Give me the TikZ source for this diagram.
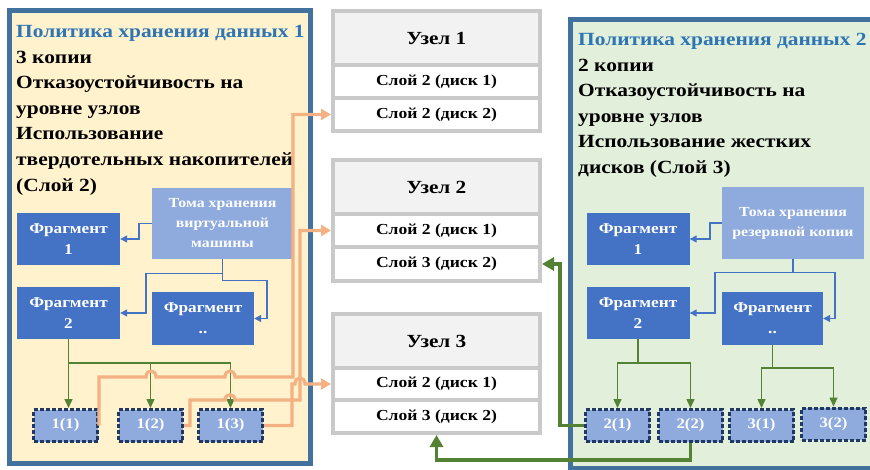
\documentclass[tikz,border=0pt]{standalone}
\usepackage{fontspec}
\setmainfont{Liberation Serif}
\newfontfamily\widefont[FakeStretch=1.15]{Liberation Serif}
\usetikzlibrary{arrows.meta}

\definecolor{polblue}{HTML}{41719C}
\definecolor{titleblue}{HTML}{2E75B6}
\definecolor{polyellow}{HTML}{FFF2CC}
\definecolor{polgreen}{HTML}{E2EFDA}
\definecolor{fragblue}{HTML}{4472C4}
\definecolor{tomeblue}{HTML}{8FAADC}
\definecolor{copynavy}{HTML}{203864}
\definecolor{linkgreen}{HTML}{548235}
\definecolor{linkorange}{HTML}{F4B183}
\definecolor{nodegray}{HTML}{C9C9C9}
\definecolor{headgray}{HTML}{F2F2F2}

\tikzset{
  panel/.style={draw=polblue, line width=5pt},
  poltext/.style={anchor=north west, align=left, inner sep=0pt, font=\widefont\fontsize{18.6}{25.6}\selectfont\bfseries},
  frag/.style={fill=fragblue, text=white, align=center, inner sep=0pt, minimum width=103pt, minimum height=52pt, font=\widefont\fontsize{15}{21}\selectfont\bfseries},
  tome/.style={fill=tomeblue, text=white, align=center, inner sep=0pt, minimum width=141pt, minimum height=71pt, font=\widefont\fontsize{13.8}{20}\selectfont\bfseries},
  copybox/.style={fill=tomeblue, draw=copynavy, line width=3pt, dash pattern=on 4pt off 2pt, text=white, inner sep=0pt, minimum width=64pt, minimum height=32pt, font=\widefont\fontsize{14.5}{18}\selectfont\bfseries},
  nodehead/.style={fill=headgray, draw=nodegray, line width=4pt, inner sep=0pt, minimum width=207pt, minimum height=54pt, font=\widefont\fontsize{18.5}{20}\selectfont\bfseries},
  noderow/.style={fill=white, draw=nodegray, line width=4pt, inner sep=0pt, minimum width=207pt, font=\widefont\fontsize{15.3}{18}\selectfont\bfseries},
  bluelink/.style={draw=fragblue, line width=1.3pt, -{Triangle[length=7pt,width=7pt]}},
  greenlink/.style={draw=linkgreen, line width=1.5pt},
  greenarrow/.style={greenlink, -{Triangle[length=9pt,width=8pt]}},
  biggreen/.style={draw=linkgreen, line width=3.5pt, -{Triangle[length=12pt,width=13pt]}},
  orangelink/.style={draw=linkorange, line width=3.2pt, -{Triangle[length=10pt,width=11pt]}}
}

\begin{document}
\begin{tikzpicture}[x=1pt,y=-1pt]
\useasboundingbox (0,0) rectangle (870,470);
\fill[white] (0,0) rectangle (870,470);
\clip (0,0) rectangle (870,470);

% policy panels
\draw[panel, fill=polyellow] (9.5,11) rectangle (310.5,463.5);
\draw[panel, fill=polgreen] (570.5,19.5) rectangle (880,468);

\node[poltext] (polA) at (16,25) {\textcolor{titleblue}{Политика хранения данных 1}\\3 копии\\Отказоустойчивость на\\уровне узлов\\Использование\\твердотельных накопителей\\(Слой 2)};
\node[poltext] (polB) at (578,33) {\textcolor{titleblue}{Политика хранения данных 2}\\2 копии\\Отказоустойчивость на\\уровне узлов\\Использование жестких\\дисков (Слой 3)};

% storage nodes
\node[nodehead] (n1h) at (436.5,38) {Узел 1};
\node[noderow, minimum height=33pt] (n1r1) at (436.5,81.5) {Слой 2 (диск 1)};
\node[noderow, minimum height=33pt] (n1r2) at (436.5,114.5) {Слой 2 (диск 2)};

\node[nodehead] (n2h) at (436.5,187) {Узел 2};
\node[noderow, minimum height=33pt] (n2r1) at (436.5,230.5) {Слой 2 (диск 1)};
\node[noderow, minimum height=34pt] (n2r2) at (436.5,264) {Слой 3 (диск 2)};

\node[nodehead] (n3h) at (436.5,341) {Узел 3};
\node[noderow, minimum height=32pt] (n3r1) at (436.5,384) {Слой 2 (диск 1)};
\node[noderow, minimum height=33pt] (n3r2) at (436.5,416.5) {Слой 3 (диск 2)};

% policy 1
\node[frag] (fragA1) at (68.5,239) {Фрагмент\\1};
\node[tome] (tomeA) at (222.5,223.5) {Тома хранения\\виртуальной\\машины};
\node[frag] (fragA2) at (68.5,313) {Фрагмент\\2};
\node[frag, minimum width=102pt, minimum height=53pt] (fragAx) at (203,318.5) {Фрагмент\\..};
\node[copybox] (c11) at (65.5,425.5) {1(1)};
\node[copybox] (c12) at (150.5,425.5) {1(2)};
\node[copybox] (c13) at (230.5,425.5) {1(3)};

\draw[bluelink] (tomeA.west) -| (139,239) -- (fragA1.east);
\draw[bluelink] (tomeA.south) -- ++(0,14) -| (146,313) -- (fragA2.east);
\draw[bluelink] (tomeA.south) -- ++(0,21) -| (267,318.5) -- (fragAx.east);

\draw[greenlink] (fragA2.south) -- ++(0,24) coordinate (gA);
\draw[greenarrow] (gA) -- (gA |- c11.north);
\draw[greenarrow] (gA) -| (c12.north);
\draw[greenarrow] (gA) -| (c13.north);

% policy 2
\node[frag] (fragB1) at (638,239) {Фрагмент\\1};
\node[tome, minimum width=142pt, minimum height=72pt] (tomeB) at (793,223) {Тома хранения\\резервной копии};
\node[frag] (fragB2) at (638,313) {Фрагмент\\2};
\node[frag, minimum width=101pt, minimum height=53pt] (fragBx) at (772.5,318.5) {Фрагмент\\..};
\node[copybox] (c21) at (617.5,425.5) {2(1)};
\node[copybox] (c22) at (690.5,425.5) {2(2)};
\node[copybox] (c31) at (761.5,425.5) {3(1)};
\node[copybox] (c32) at (833.5,424) {3(2)};

\draw[bluelink] (tomeB.west) -| (710,239) -- (fragB1.east);
\draw[bluelink] (tomeB.south) -- ++(0,13) -| (715,313) -- (fragB2.east);
\draw[bluelink] (tomeB.south) -- ++(0,13) -| (835,318.5) -- (fragBx.east);

\draw[greenlink] (fragB2.south) -- ++(0,24) coordinate (gB);
\draw[greenarrow] (gB) -| (c21.north);
\draw[greenarrow] (gB) -| (c22.north);
\draw[greenlink] (fragBx.south) -- ++(0,23) coordinate (gC);
\draw[greenarrow] (gC) -| (c31.north);
\draw[greenarrow] (gC) -| (c32.north);

% copies to nodes
\draw[orangelink] (c11.east) |- (146,377) .. controls (146,369) and (156,369) .. (156,377)
  -- (225,377) .. controls (225,369) and (235,369) .. (235,377) -- (293,377) |- (n1r2.west);
\draw[orangelink] (c12.east) -| (190,400) -- (225,400) .. controls (225,393) and (235,393) .. (235,400)
  -- (300,400) |- (n2r1.west);
\draw[orangelink] (c13.east) -| (292,384) -- (295,384) .. controls (295,376) and (305,376) .. (305,384)
  -- (n3r1.west);

\draw[biggreen] (c21.west) -| (560,264) -- (n2r2.east);
\draw[biggreen] (c22.south) -- ++(0,17) -| (n3r2.south);
\end{tikzpicture}
\end{document}
